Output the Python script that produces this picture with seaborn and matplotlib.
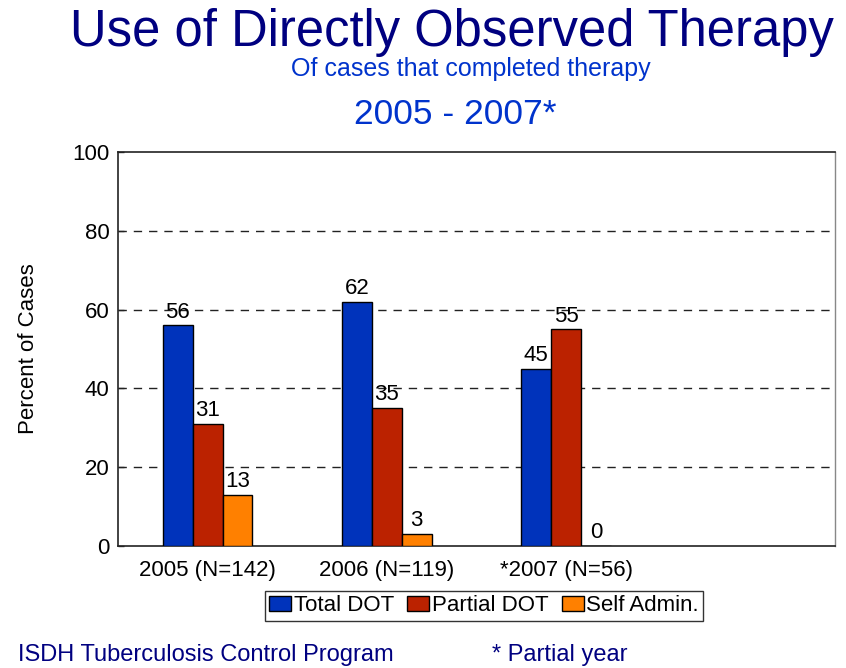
import pandas as pd
import matplotlib.pyplot as plt
import seaborn as sns

# Data
YEARS = ["2005 (N=142)", "2006 (N=119)", "*2007 (N=56)"]
METHODS = ["Total DOT", "Partial DOT", "Self Admin."]
TOTAL_DOT = [56, 62, 45]
PARTIAL_DOT = [31, 35, 55]
SELF_ADMIN = [13, 3, 0]
COLORS = ["#0033BB", "#BB2200", "#FF8000"]
Y_TICKS = [0, 20, 40, 60, 80, 100]

OUTPUT_FILE = "out.png"


def build_frame():
    rows = []
    for method, values in zip(METHODS, [TOTAL_DOT, PARTIAL_DOT, SELF_ADMIN]):
        for year, v in zip(YEARS, values):
            rows.append({"year": year, "method": method, "pct": v})
    return pd.DataFrame(rows)


def draw(df):
    sns.set_theme(style="white")
    plt.rcParams["font.family"] = ["Liberation Sans", "DejaVu Sans"]
    plt.rcParams["text.color"] = "black"

    fig = plt.figure(figsize=(8.46, 6.68), dpi=100)
    ax = fig.add_axes([0.1395, 0.1826, 0.8475, 0.5899])

    sns.barplot(
        data=df, x="year", y="pct", hue="method",
        order=YEARS, hue_order=METHODS, palette=COLORS,
        width=0.5, edgecolor="black", linewidth=1,
        saturation=1, ax=ax, legend=True, zorder=3,
    )

    for container in ax.containers:
        ax.bar_label(container, fmt="%d", padding=2, fontsize=16, color="black")

    ax.set_xlim(-0.5, 3.5)
    ax.set_ylim(0, 100)
    ax.set_yticks(Y_TICKS)
    ax.tick_params(axis="y", direction="in", length=4, width=1, color="#333333",
                   labelsize=16, labelcolor="black", pad=6, left=True)
    ax.tick_params(axis="x", length=0, labelsize=16, labelcolor="black", pad=10)
    ax.set_xlabel("")
    ax.set_ylabel("Percent of Cases", fontsize=16, color="black", labelpad=24)

    for y in Y_TICKS[1:-1]:
        ax.axhline(y, color="#222222", linestyle=(0, (6, 5)), linewidth=1, zorder=1)

    for side in ["left", "bottom", "top"]:
        ax.spines[side].set_color("#222222")
        ax.spines[side].set_linewidth(1.2)
    ax.spines["right"].set_color("#888888")
    ax.spines["right"].set_linewidth(1)

    leg = ax.legend(
        loc="center", bbox_to_anchor=(0.572, 0.093), bbox_transform=fig.transFigure,
        ncol=3, fontsize=16, frameon=True, fancybox=False, edgecolor="black",
        handlelength=1.0, handleheight=0.7, handletextpad=0.1, columnspacing=0.6,
        borderpad=0.2, borderaxespad=0,
    )
    leg.get_frame().set_linewidth(1)

    fig.text(0.534, 0.9311, "Use of Directly Observed Therapy", ha="center", va="baseline",
             fontsize=36.5, color="#000080")
    fig.text(0.556, 0.8862, "Of cases that completed therapy", ha="center", va="baseline",
             fontsize=18, color="#0033CC")
    fig.text(0.538, 0.8144, "2005 - 2007*", ha="center", va="baseline",
             fontsize=25.5, color="#0033CC")
    fig.text(0.021, 0.0105, "ISDH Tuberculosis Control Program", ha="left", va="baseline",
             fontsize=17, color="#000080")
    fig.text(0.581, 0.0105, "* Partial year", ha="left", va="baseline",
             fontsize=17, color="#000080")

    fig.savefig(OUTPUT_FILE, dpi=100)


if __name__ == "__main__":
    draw(build_frame())
